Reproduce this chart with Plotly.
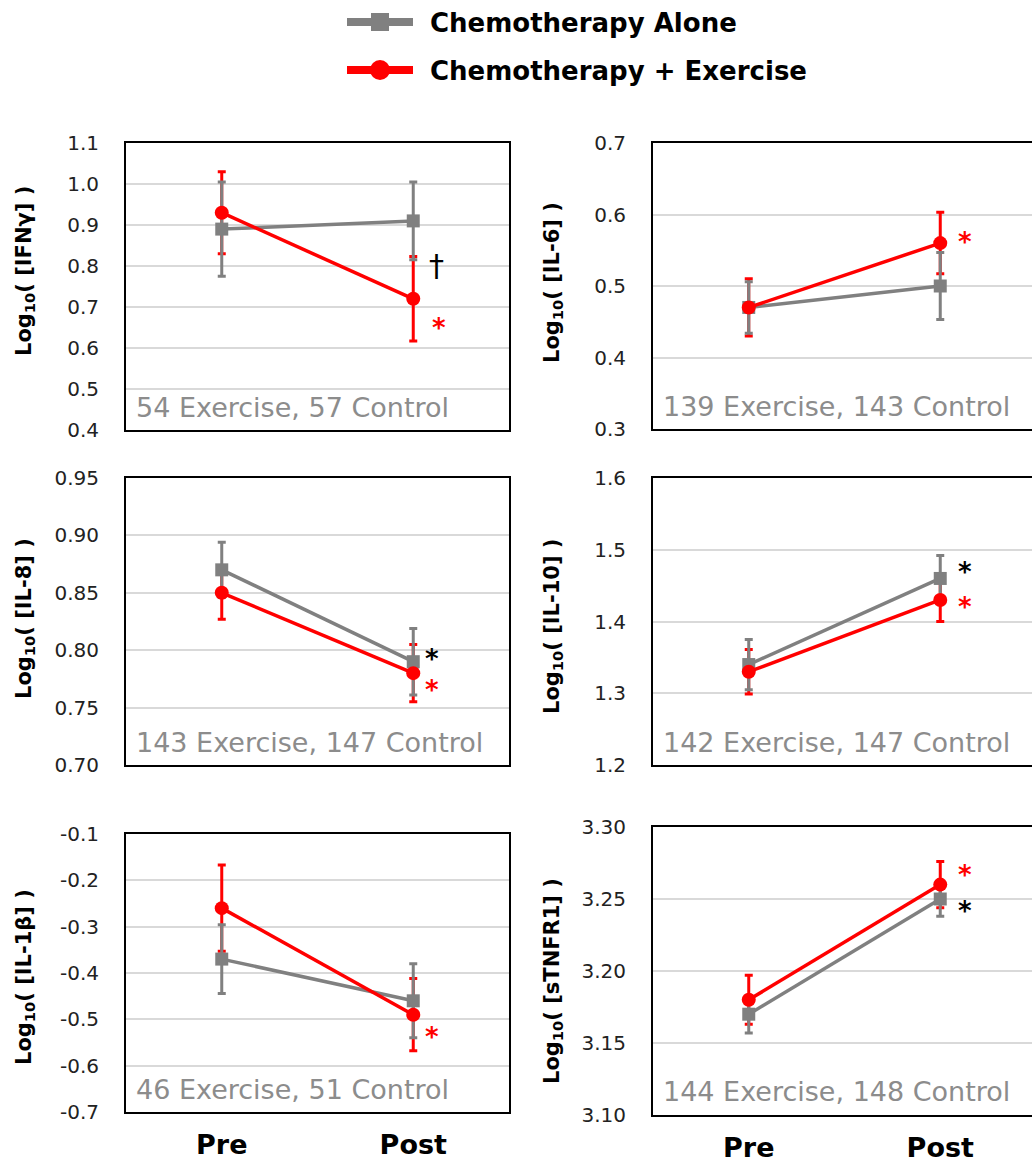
import plotly.graph_objects as go

# ---------------- data ----------------
timepoints = ["Pre", "Post"]
analytes = ["IFNγ", "IL-6", "IL-8", "IL-10", "IL-1β", "sTNFR1"]

control_mean = [[0.89, 0.91], [0.47, 0.50], [0.87, 0.79], [1.34, 1.46], [-0.37, -0.46], [3.17, 3.25]]
control_err = [[0.115, 0.095], [0.036, 0.047], [0.024, 0.029], [0.035, 0.032], [0.074, 0.080], [0.013, 0.012]]
exercise_mean = [[0.93, 0.72], [0.47, 0.56], [0.85, 0.78], [1.33, 1.43], [-0.26, -0.49], [3.18, 3.26]]
exercise_err = [[0.100, 0.103], [0.040, 0.043], [0.023, 0.025], [0.031, 0.030], [0.093, 0.078], [0.017, 0.016]]

n_exercise = [54, 139, 143, 142, 46, 144]
n_control = [57, 143, 147, 147, 51, 148]

y_ticks = [
    [0.4, 0.5, 0.6, 0.7, 0.8, 0.9, 1.0, 1.1],
    [0.3, 0.4, 0.5, 0.6, 0.7],
    [0.70, 0.75, 0.80, 0.85, 0.90, 0.95],
    [1.2, 1.3, 1.4, 1.5, 1.6],
    [-0.7, -0.6, -0.5, -0.4, -0.3, -0.2, -0.1],
    [3.10, 3.15, 3.20, 3.25, 3.30],
]
y_decimals = [1, 1, 2, 1, 1, 2]

# significance marks: (panel, text, colour, x, y)
sig_marks = [
    (0, "†", "black", 1.12, 0.80),
    (0, "*", "red", 1.135, 0.663),
    (1, "*", "red", 1.13, 0.57),
    (2, "*", "black", 1.10, 0.7976),
    (2, "*", "red", 1.10, 0.7706),
    (3, "*", "black", 1.13, 1.477),
    (3, "*", "red", 1.13, 1.4286),
    (4, "*", "red", 1.10, -0.525),
    (5, "*", "red", 1.13, 3.271),
    (5, "*", "black", 1.13, 3.246),
]

# ---------------- layout geometry (page pixels) ----------------
W, H = 1032, 1165
GRAY = "#808080"
RED = "#ff0000"
FONT = "DejaVu Sans"

col_px = [(126, 509), (653, 1032)]
row_px = {0: (143, 430), 1: (143, 429), 2: (478, 765), 3: (478, 765), 4: (834, 1112), 5: (827, 1115)}
title_px = {0: (25, 271), 1: (553, 283), 2: (25, 619), 3: (553, 627), 4: (25, 977), 5: (553, 981)}


def fx(p):
    return p / W


def fy(p):
    return 1 - p / H


fig = go.Figure()
x_idx = list(range(len(timepoints)))

for i in range(6):
    xs = "x" if i == 0 else f"x{i+1}"
    ys = "y" if i == 0 else f"y{i+1}"
    fig.add_trace(go.Scatter(
        x=x_idx, y=exercise_mean[i], xaxis=xs, yaxis=ys, mode="markers",
        marker=dict(size=1, opacity=0),
        error_y=dict(type="data", array=exercise_err[i], color=RED, thickness=3, width=4),
        showlegend=False, hoverinfo="skip"))
    fig.add_trace(go.Scatter(
        x=x_idx, y=control_mean[i], xaxis=xs, yaxis=ys, mode="lines+markers",
        line=dict(color=GRAY, width=3.5),
        marker=dict(symbol="square", size=13, color=GRAY),
        error_y=dict(type="data", array=control_err[i], color=GRAY, thickness=3, width=4),
        name="Chemotherapy Alone", showlegend=False))
    fig.add_trace(go.Scatter(
        x=x_idx, y=exercise_mean[i], xaxis=xs, yaxis=ys, mode="lines+markers",
        line=dict(color=RED, width=3.5),
        marker=dict(symbol="circle", size=14, color=RED),
        name="Chemotherapy + Exercise", showlegend=False))

axes = {}
for i in range(6):
    c = i % 2
    x0, x1 = col_px[c]
    top, bot = row_px[i]
    if c == 0:
        xr = [-0.5, 1.5]
    else:
        xr = [-0.5, -0.5 + (x1 - x0) / 191.5]
    xname = "xaxis" if i == 0 else f"xaxis{i+1}"
    yname = "yaxis" if i == 0 else f"yaxis{i+1}"
    ya = "y" if i == 0 else f"y{i+1}"
    xa = "x" if i == 0 else f"x{i+1}"
    axes[xname] = dict(
        domain=[fx(x0), min(fx(x1), 1.0)], range=xr, anchor=ya, automargin=False,
        showgrid=False, zeroline=False, showline=True, linecolor="black", linewidth=2,
        mirror=True, ticks="", tickvals=x_idx, ticktext=timepoints,
        showticklabels=(i >= 4), ticklabelstandoff=8,
        tickfont=dict(family=FONT, size=27, color="black", weight="bold"))
    ticks = y_ticks[i]
    axes[yname] = dict(
        domain=[fy(bot), fy(top)], range=[ticks[0], ticks[-1]], anchor=xa, automargin=False,
        tickmode="array", tickvals=ticks,
        ticktext=[f"{v:.{y_decimals[i]}f}" for v in ticks],
        showgrid=True, gridcolor="#d9d9d9", gridwidth=1.5, zeroline=False,
        showline=True, linecolor="black", linewidth=2, mirror=(c == 0), ticks="",
        ticklabelstandoff=21, tickfont=dict(family=FONT, size=20, color="#222222"))

annotations = []
for i in range(6):
    xa = "x" if i == 0 else f"x{i+1}"
    ya = "y" if i == 0 else f"y{i+1}"
    annotations.append(dict(
        text=f"{n_exercise[i]} Exercise, {n_control[i]} Control",
        xref=f"{xa} domain", yref=f"{ya} domain", x=0.022, y=0.08,
        xanchor="left", yanchor="middle", showarrow=False,
        font=dict(family=FONT, size=27, color="#8c8c8c")))
    tx, ty = title_px[i]
    annotations.append(dict(
        text=f"Log<sub>10</sub>( [{analytes[i]}] )", textangle=-90,
        xref="paper", yref="paper", x=fx(tx), y=fy(ty),
        xanchor="center", yanchor="middle", showarrow=False,
        font=dict(family=FONT, size=21, color="black", weight="bold")))

for (p, t, col, sx, sy) in sig_marks:
    xa = "x" if p == 0 else f"x{p+1}"
    ya = "y" if p == 0 else f"y{p+1}"
    big = t == "†"
    annotations.append(dict(
        text=t, xref=xa, yref=ya, x=sx, y=sy, showarrow=False,
        xanchor="center", yanchor="middle", yshift=0 if big else -6,
        font=dict(family=FONT, size=30 if big else 26, color=col, weight="normal" if big else "bold")))

legend_items = [("Chemotherapy Alone", GRAY, "square", 22), ("Chemotherapy + Exercise", RED, "circle", 70)]
shapes = []
for label, col, sym, yc in legend_items:
    shapes.append(dict(type="line", xref="paper", yref="paper", x0=fx(347), x1=fx(413),
                       y0=fy(yc), y1=fy(yc), line=dict(color=col, width=8)))
    r = 9 if sym == "square" else 10
    shapes.append(dict(type="rect" if sym == "square" else "circle", xref="paper", yref="paper",
                       x0=fx(380 - r), x1=fx(380 + r), y0=fy(yc + r), y1=fy(yc - r),
                       fillcolor=col, line=dict(color=col, width=0)))
    annotations.append(dict(text=label, xref="paper", yref="paper", x=fx(428), y=fy(yc + 1),
                            xanchor="left", yanchor="middle", showarrow=False,
                            font=dict(family=FONT, size=26, color="black", weight="bold")))

fig.update_layout(
    width=W, height=H, margin=dict(l=0, r=0, t=0, b=0, pad=0),
    paper_bgcolor="white", plot_bgcolor="white",
    showlegend=False, annotations=annotations, shapes=shapes,
    **axes)

# pin the figure to the top-left corner of the page so it fills the window exactly
pin_js = (
    "document.body.style.margin='0';"
    "document.documentElement.style.overflow='hidden';"
    "var d=document.getElementById('{plot_id}');"
    "d.style.position='fixed';d.style.left='0px';d.style.top='0px';"
)
fig.write_html("out.html", post_script=pin_js, config={"displayModeBar": False})
